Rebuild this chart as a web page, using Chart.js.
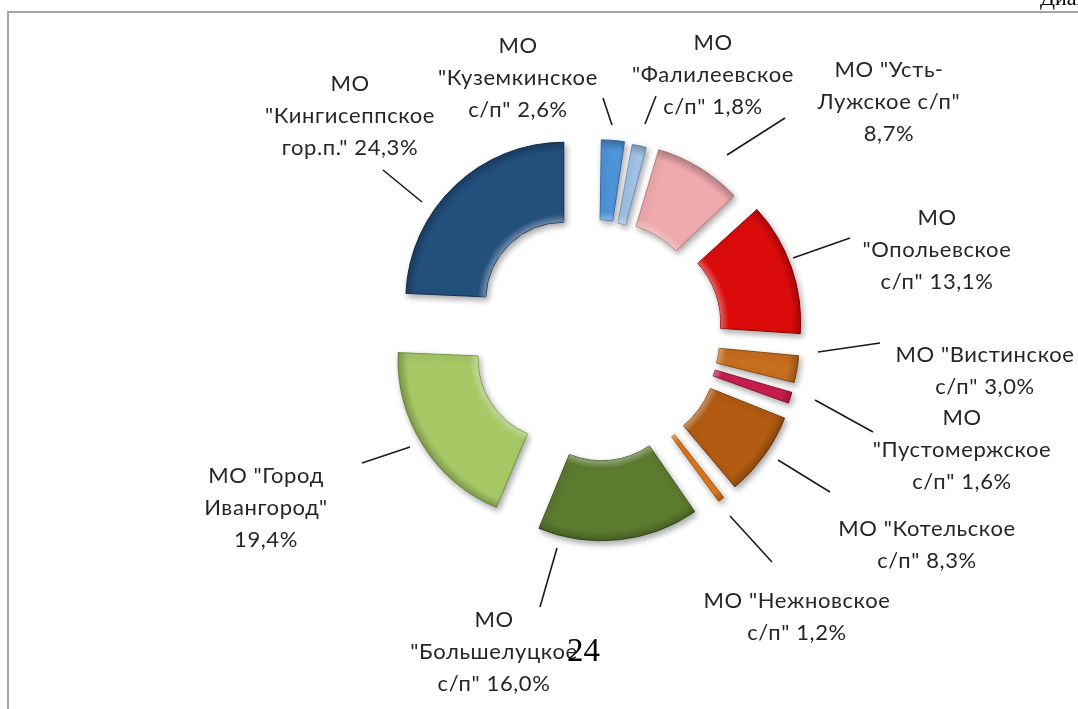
<!DOCTYPE html>
<html>
<head>
<meta charset="utf-8">
<script src="https://cdn.jsdelivr.net/npm/chart.js@4/dist/chart.umd.min.js"></script>
<style>
  html, body { margin: 0; padding: 0; background: #fff; overflow: hidden; }
  #wrap { position: relative; width: 1078px; height: 709px; }
  #frame { position: absolute; left: 7px; top: 11px; right: -10px; bottom: -10px;
           border-top: 2px solid #a6a6a6; border-left: 2px solid #a6a6a6; }
  #chart { position: absolute; left: 0; top: 0; }
  .page { position: absolute; font-family: "Liberation Serif", serif; color: #000; }
</style>
</head>
<body>
<div id="wrap">
  <div id="frame"></div>
  <canvas id="chart" width="1078" height="709"></canvas>
  <div class="page" style="left:1040px; top:-15px; font-size:22px;">Диаграмма</div>
  <div class="page" style="left:567px; top:634px; font-size:33px; line-height:33px;">24</div>
</div>
<script>
// данные диаграммы
const categories = [
    'МО "Куземкинское с/п"', 'МО "Фалилеевское с/п"', 'МО "Усть-Лужское с/п"',
    'МО "Опольевское с/п"', 'МО "Вистинское с/п"', 'МО "Пустомержское с/п"',
    'МО "Котельское с/п"', 'МО "Нежновское с/п"', 'МО "Большелуцкое с/п"',
    'МО "Город Ивангород"', 'МО "Кингисеппское гор.п."'
];
const values = [2.6, 1.8, 8.7, 13.1, 3.0, 1.6, 8.3, 1.2, 16.0, 19.4, 24.3];

// как подписи разбиты по строкам (процент дописывается в конец)
const labelLines = [
    ['МО', '"Куземкинское', 'с/п"'],
    ['МО', '"Фалилеевское', 'с/п"'],
    ['МО "Усть-', 'Лужское с/п"', ''],
    ['МО', '"Опольевское', 'с/п"'],
    ['МО "Вистинское', 'с/п"'],
    ['МО', '"Пустомержское', 'с/п"'],
    ['МО "Котельское', 'с/п"'],
    ['МО "Нежновское', 'с/п"'],
    ['МО', '"Большелуцкое', 'с/п"'],
    ['МО "Город', 'Ивангород"', ''],
    ['МО', '"Кингисеппское', 'гор.п."']
];

const colors = ['#4f93d8', '#a3c4e8', '#eeaaad', '#dc0b0b', '#c76e1f', '#cc1f4e',
                '#b25b12', '#e47a1c', '#5b7b2f', '#a6c966', '#234f7d'];
const borders = ['#2f6aa8', '#6f93bb', '#b97a7d', '#8e0606', '#8a4a12', '#8a1233',
                 '#7a3d0a', '#a65410', '#3c5420', '#75953f', '#142f4d'];
// разнос секторов (ArcElement сдвигает на offset/4 и ещё раздвигает радиусы у узких)
const explode = [81, 76, 103, 151, 99, 95, 128, 100, 166, 181, 192];

// где стоят подписи и выноски
const textPos = [[518, 46], [713, 43], [889, 70], [937, 218], [985, 355], [962, 418],
                 [927, 529], [797, 601], [494, 620], [266, 476], [350, 84]];
const leaders = [[[612, 125], [603, 98]], [[645, 124], [656, 96]], [[727, 155], [785, 118]],
                 [[793, 258], [850, 238]], [[818, 352], [880, 343]], [[815, 400], [873, 432]],
                 [[778, 460], [830, 492]], [[730, 516], [772, 562]], [[557, 548], [540, 607]],
                 [[362, 463], [410, 447]], [[383, 170], [422, 202]]];

function pct(v) {
    return v.toFixed(1).replace('.', ',') + '%';
}

// тень и объёмная кромка как в Excel
const bevelPlugin = {
    id: 'bevel',
    beforeDatasetsDraw(chart) {
        let ctx = chart.ctx;
        ctx.save();
        ctx.shadowColor = 'rgba(0,0,0,0.35)';
        ctx.shadowBlur = 6;
        ctx.shadowOffsetX = 2;
        ctx.shadowOffsetY = 3;
    },
    afterDatasetsDraw(chart) {
        let ctx = chart.ctx;
        ctx.restore();
        chart.getDatasetMeta(0).data.forEach(arc => {
            let o = arc.options;
            let circ = arc.endAngle - arc.startAngle;
            let ro = (o.offset / 4) * (1 - Math.sin(Math.min(Math.PI, circ)));
            let r0 = arc.innerRadius + ro, r1 = arc.outerRadius + ro;
            let g = ctx.createRadialGradient(arc.x, arc.y, r0, arc.x, arc.y, r1);
            g.addColorStop(0, 'rgba(255,255,255,0.35)');
            g.addColorStop(0.1, 'rgba(255,255,255,0)');
            g.addColorStop(0.88, 'rgba(0,0,0,0)');
            g.addColorStop(1, 'rgba(0,0,0,0.22)');
            arc.options = Object.assign({}, o, { backgroundColor: g, borderWidth: 0 });
            arc.draw(ctx);
            arc.options = o;
        });
    }
};

const labelPlugin = {
    id: 'labels',
    afterDraw(chart) {
        let ctx = chart.ctx;
        ctx.save();
        ctx.strokeStyle = '#1a1a1a';
        ctx.lineWidth = 1.6;
        leaders.forEach(l => {
            ctx.beginPath();
            ctx.moveTo(l[0][0], l[0][1]);
            ctx.lineTo(l[1][0], l[1][1]);
            ctx.stroke();
        });
        ctx.fillStyle = '#262626';
        ctx.font = '22px Lato';
        ctx.letterSpacing = '0.6px';
        ctx.textAlign = 'center';
        ctx.textBaseline = 'middle';
        values.forEach((v, i) => {
            let lines = labelLines[i].slice();
            let last = lines.length - 1;
            lines[last] = lines[last] ? lines[last] + ' ' + pct(v) : pct(v);
            lines.forEach((t, k) => {
                ctx.fillText(t, textPos[i][0], textPos[i][1] + k * 32);
            });
        });
        ctx.restore();
    }
};

new Chart(document.getElementById('chart'), {
    type: 'doughnut',
    data: {
        labels: categories,
        datasets: [{
            data: values,
            backgroundColor: colors,
            borderColor: borders,
            borderWidth: 1,
            offset: explode,
            hoverOffset: 0
        }]
    },
    options: {
        responsive: false,
        animation: false,
        events: [],
        radius: 158,
        cutout: '49.4%',
        layout: { padding: { left: 116, right: 0, top: 0, bottom: 39 } },
        plugins: { legend: { display: false }, tooltip: { enabled: false } }
    },
    plugins: [bevelPlugin, labelPlugin]
});
</script>
</body>
</html>
